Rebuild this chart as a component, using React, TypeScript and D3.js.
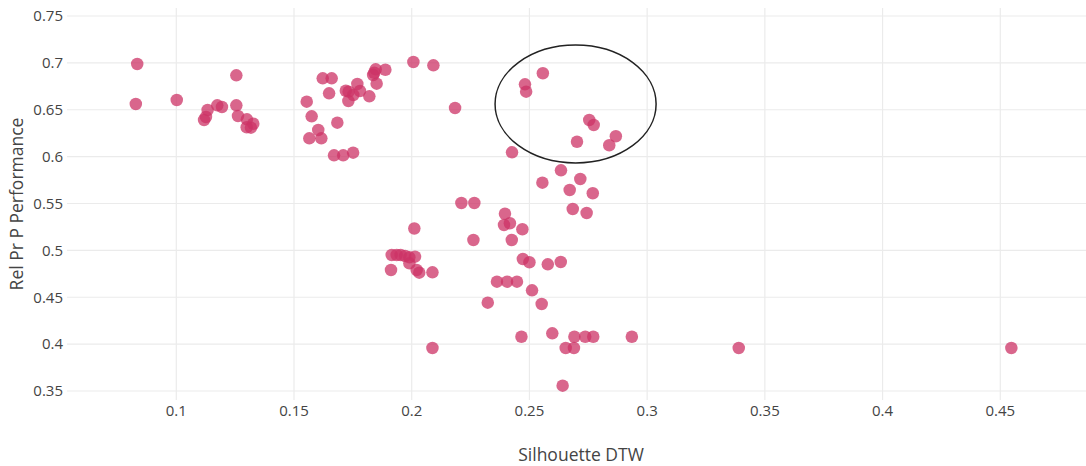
import React from "react";
import * as d3 from "d3";

const xTicks = [0.1, 0.15, 0.2, 0.25, 0.3, 0.35, 0.4, 0.45];
const yTicks = [0.35, 0.4, 0.45, 0.5, 0.55, 0.6, 0.65, 0.7, 0.75];
const xTitle = "Silhouette DTW";
const yTitle = "Rel Pr P Performance";

// Silhouette DTW values
const silhouette = [
  0.0834, 0.0828, 0.1002, 0.1255, 0.1133, 0.1118, 0.1126, 0.1174, 0.1194, 0.1255,
  0.1262, 0.13, 0.1327, 0.1299, 0.1317,
  0.1554, 0.1575, 0.1622, 0.166, 0.1649, 0.1603, 0.1565, 0.1616, 0.1684, 0.167,
  0.1709, 0.1751, 0.172, 0.1732, 0.1769, 0.178, 0.1752, 0.1731, 0.182, 0.1841,
  0.1847, 0.1836, 0.1888, 0.1851, 0.2007, 0.2092, 0.2184,
  0.2557, 0.2481, 0.2486, 0.2754, 0.2773, 0.2702, 0.2867, 0.2839, 0.2426,
  0.2634, 0.2555, 0.2716, 0.2671, 0.2769, 0.2684, 0.2743, 0.2396, 0.2392, 0.2417,
  0.247, 0.2425, 0.2472, 0.25, 0.2578, 0.2633,
  0.2011, 0.2262, 0.2211, 0.2266, 0.1915, 0.1936, 0.1953, 0.1972, 0.199, 0.2014,
  0.199, 0.1912, 0.2021, 0.2032, 0.2088, 0.2362, 0.2405, 0.2447, 0.2511, 0.2323,
  0.2552, 0.2466, 0.2597, 0.2088,
  0.2691, 0.2737, 0.2771, 0.2935, 0.2654, 0.2689, 0.2641, 0.3389, 0.4547,
];

// Rel Pr P Performance values
const performance = [
  0.6988, 0.6561, 0.6604, 0.6867, 0.6497, 0.6391, 0.6423, 0.6547, 0.6529, 0.6547,
  0.6433, 0.6398, 0.6351, 0.6313, 0.6309,
  0.6586, 0.643, 0.6835, 0.6835, 0.6675, 0.6284, 0.6195, 0.6195, 0.6362, 0.6014,
  0.6014, 0.6042, 0.6703, 0.6693, 0.6775, 0.67, 0.6657, 0.6593, 0.6643, 0.6895,
  0.6931, 0.6871, 0.6927, 0.6778, 0.7009, 0.6974, 0.6519,
  0.6889, 0.6771, 0.6693, 0.6391, 0.6337, 0.6159, 0.6217, 0.6121, 0.6046,
  0.5854, 0.5722, 0.5761, 0.5644, 0.5609, 0.5441, 0.5399, 0.5391, 0.5271, 0.5289,
  0.5225, 0.5111, 0.4908, 0.4873, 0.4851, 0.4876,
  0.5233, 0.5111, 0.5505, 0.5505, 0.4951, 0.4951, 0.4951, 0.494, 0.4926, 0.4933,
  0.4862, 0.4791, 0.4791, 0.4762, 0.4766, 0.4666, 0.4666, 0.4666, 0.4574, 0.4442,
  0.4428, 0.4079, 0.4115, 0.3959,
  0.4079, 0.4079, 0.4079, 0.4079, 0.3959, 0.3959, 0.3557, 0.3959, 0.3959,
];

// Highlight ellipse in data coordinates
const ellipseX = [0.2354, 0.3038];
const ellipseY = [0.5932, 0.719];

const W = 1086;
const H = 466;
const plotLeft = 67;
const plotRight = 1086;
const plotTop = 8;
const plotBottom = 400;

const x = d3.scaleLinear().domain([0.1, 0.45]).range([176.3, 1000.3]);
const y = d3.scaleLinear().domain([0.35, 0.75]).range([391, 16]);

const font = "'Open Sans', 'Noto Sans', sans-serif";
const fmt = (v: number) => d3.format("")(+v.toFixed(2));

export default function App() {
  const cx = (x(ellipseX[0]) + x(ellipseX[1])) / 2;
  const cy = (y(ellipseY[0]) + y(ellipseY[1])) / 2;
  const rx = Math.abs(x(ellipseX[1]) - x(ellipseX[0])) / 2;
  const ry = Math.abs(y(ellipseY[1]) - y(ellipseY[0])) / 2;
  return (
    <div style={{ position: "fixed", left: 0, top: 0 }}>
      <svg width={W} height={H} style={{ display: "block", background: "#fff" }}>
        <g>
          {xTicks.map((t) => (
            <line key={"gx" + t} x1={x(t)} x2={x(t)} y1={plotTop} y2={plotBottom} stroke="#ebebeb" strokeWidth={1.2} />
          ))}
          {yTicks.map((t) => (
            <line key={"gy" + t} x1={plotLeft} x2={plotRight} y1={y(t)} y2={y(t)} stroke="#ebebeb" strokeWidth={1.2} />
          ))}
        </g>
        <g>
          {silhouette.map((s, i) => (
            <circle key={i} cx={x(s)} cy={y(performance[i])} r={6.25} fill="#cc3366" fillOpacity={0.75} />
          ))}
        </g>
        <ellipse cx={cx} cy={cy} rx={rx} ry={ry} fill="none" stroke="#222" strokeWidth={1.5} />
        <g fontFamily={font} fontSize={15} fill="#444">
          {xTicks.map((t) => (
            <text key={"tx" + t} x={x(t)} y={416} textAnchor="middle">{fmt(t)}</text>
          ))}
          {yTicks.map((t) => (
            <text key={"ty" + t} x={63} y={y(t)} dy="0.35em" textAnchor="end">{fmt(t)}</text>
          ))}
        </g>
        <text x={581} y={461} textAnchor="middle" fontFamily={font} fontSize={17.5} fill="#444">{xTitle}</text>
        <text transform="translate(23,204) rotate(-90)" textAnchor="middle" fontFamily={font} fontSize={17.5} fill="#444">{yTitle}</text>
      </svg>
    </div>
  );
}
